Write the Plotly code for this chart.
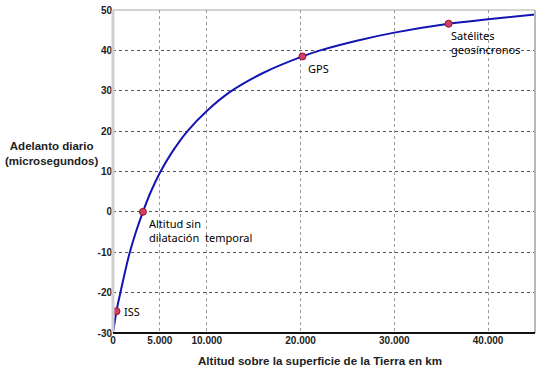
import plotly.graph_objects as go

# Curve (altitude km, daily gain in microseconds)
altitud = [0, 370, 770, 1200, 1760, 2400, 3190, 4000, 5000, 6300, 7900, 10000,
           12600, 16000, 20200, 22100, 26000, 30000, 35786, 40000, 45000]
adelanto = [-30.0, -24.6, -20.2, -15.7, -10.3, -5.3, 0.0, 4.8, 9.7, 14.8, 19.9, 25.0,
            29.9, 34.4, 38.5, 40.0, 42.4, 44.4, 46.6, 47.7, 48.9]

# Highlighted points
pt_alt = [370, 3190, 20200, 35786]
pt_val = [-24.6, 0.0, 38.5, 46.6]
pt_lab = ["ISS", "Altitud sin<br>dilatación  temporal", "GPS", "Satélites<br>geosíncronos"]

xtick_vals = [0, 5000, 10000, 20000, 30000, 40000]
xtick_text = ["0", "5.000", "10.000", "20.000", "30.000", "40.000"]
ytick_vals = [-30, -20, -10, 0, 10, 20, 30, 40, 50]

fig = go.Figure()
fig.add_trace(go.Scatter(x=altitud, y=adelanto, mode="lines", line_shape="spline",
                         line=dict(color="#1414b4", width=2, smoothing=1.0), hoverinfo="skip"))
fig.add_trace(go.Scatter(x=pt_alt, y=pt_val, mode="markers",
                         marker=dict(size=7, color="#d04060", line=dict(color="#9a1030", width=1))))

offsets = [(6, 0, "middle"), (4, -2, "top"), (4, -3, "top"), (0, -2, "top")]
for xa, ya, lab, (dx, dy, va) in zip(pt_alt, pt_val, pt_lab, offsets):
    fig.add_annotation(x=xa, y=ya, text=lab, showarrow=False, xanchor="left", yanchor=va,
                       xshift=dx, yshift=dy, align="left",
                       font=dict(family="Noto Sans", size=11, color="#000000"))

fig.add_annotation(xref="paper", yref="paper", x=-0.145, y=0.557, text="<b>Adelanto diario<br>(microsegundos)</b>",
                   showarrow=False, xanchor="center", yanchor="middle",
                   font=dict(family="Liberation Sans", size=11.5, color="#222222"))
fig.add_annotation(xref="paper", yref="paper", x=0.49, y=-0.084, text="<b>Altitud sobre la superficie de la Tierra en km</b>",
                   showarrow=False, xanchor="center", yanchor="middle",
                   font=dict(family="Liberation Sans", size=11.6, color="#222222"))

# plot box
fig.add_shape(type="rect", xref="paper", yref="paper", x0=0, x1=1, y0=0, y1=1,
              line=dict(color="#a8a8a8", width=1), layer="above")
fig.add_shape(type="line", xref="paper", yref="paper", x0=0, x1=0, y0=0, y1=1,
              line=dict(color="#cfcfcf", width=3), layer="above")
fig.add_shape(type="line", xref="paper", yref="paper", x0=1, x1=1, y0=0, y1=1,
              line=dict(color="#b8b8b8", width=2), layer="above")
fig.add_shape(type="line", xref="paper", yref="paper", x0=0, x1=1, y0=0, y1=0,
              line=dict(color="#111111", width=2), layer="above")

fig.update_xaxes(range=[0, 45000], tickvals=xtick_vals, ticktext=["<b>%s</b>" % t for t in xtick_text],
                 showgrid=True, gridcolor="#9a9a9a", griddash="dot", gridwidth=1,
                 zeroline=False, showline=False, ticks="", automargin=False,
                 tickfont=dict(family="Liberation Sans", size=10, color="#222222"))
fig.update_yaxes(range=[-30, 50], tickvals=ytick_vals, ticktext=["<b>%d</b>" % v for v in ytick_vals],
                 showgrid=True, gridcolor="#555555", griddash="dot", gridwidth=1,
                 zeroline=False, showline=False, ticks="", automargin=False,
                 tickfont=dict(family="Liberation Sans", size=10, color="#222222"))

fig.update_layout(width=540, height=368, margin=dict(l=113, r=5, t=10, b=35, autoexpand=False),
                  paper_bgcolor="white", plot_bgcolor="white", showlegend=False)

fig.write_html("out.html", config={"displayModeBar": False},
               post_script="document.body.style.margin='0';")
